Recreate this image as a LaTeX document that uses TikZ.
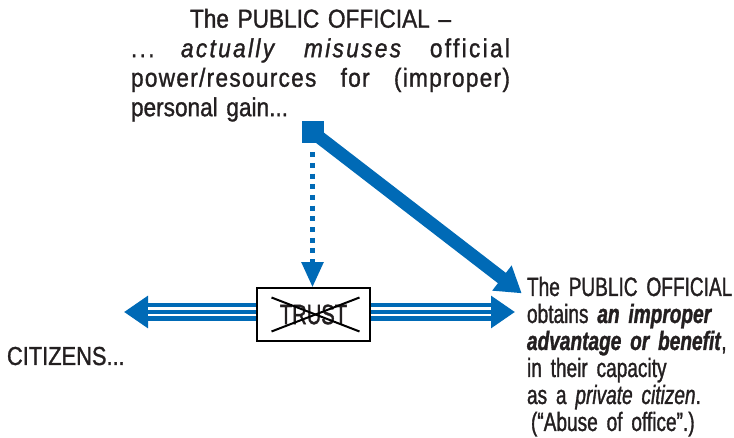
\documentclass[tikz,border=0pt]{standalone}
\usepackage{fontspec}
\defaultfontfeatures{Ligatures=TeX}
\setmainfont{Liberation Sans}
\newfontfamily\topfont{Liberation Sans}[FakeStretch=0.87,FakeBold=1.2]
\newfontfamily\rfont{Liberation Sans}[FakeStretch=0.72,FakeBold=1.2]
\newfontfamily\cfont{Liberation Sans}[FakeStretch=0.84,FakeBold=1.2]
\usetikzlibrary{arrows.meta,calc}
\definecolor{ablue}{RGB}{0,106,182}
\definecolor{txt}{RGB}{35,31,32}
\newcommand\fillsp{\hskip 0pt plus 1fil\relax}
\tikzset{
  txtnode/.style={inner sep=0pt, outer sep=0pt, text=txt},
  triple/.style={ablue, line width=18.4pt, -{Triangle[length=24pt,width=31pt]}},
  gapline/.style={white, line width=2.2pt},
  dotarrow/.style={ablue, line width=5pt, dash pattern=on 5pt off 5.7pt, shorten <=9pt, -{Triangle[length=25pt,width=21pt]}},
  fatarrow/.style={ablue, line width=13pt, -{Triangle[length=25pt,width=30pt]}},
  trustbox/.style={draw=black, line width=1.5pt, fill=white, minimum width=113pt, minimum height=53pt, inner sep=0pt, text=txt, font=\rfont\fontsize{28}{28}\selectfont},
  cross/.style={black, line width=2pt}
}
\begin{document}
\begin{tikzpicture}[x=1pt,y=-1pt]
\useasboundingbox (0,0) rectangle (734,438);
% text blocks
\node[txtnode, anchor=base west, text width=379pt, align=left, font=\topfont\fontsize{26}{29.5}\selectfont] (top) at (131,27.7)
 {\leavevmode\hbox to 379pt{\hfil The PUBLIC OFFICIAL –\hfil}\\
  \leavevmode\hbox to 379pt{\addfontfeature{LetterSpace=9}...\fillsp\textit{actually}\fillsp\textit{misuses}\fillsp official}\\
  \leavevmode\hbox to 379pt{\addfontfeature{LetterSpace=5}power/resources\fillsp for\fillsp (improper)}\\
  personal gain...};
\node[txtnode, anchor=base west, text width=210pt, align=left, font=\rfont\fontsize{26.5}{27}\selectfont] (rt) at (527,296)
 {The PUBLIC OFFICIAL\\
  obtains \textbf{\textit{an improper}}\\
  \textbf{\textit{advantage or benefit}},\\
  in their capacity\\
  as a \textit{private citizen}.\\
  \hspace*{4pt}(“Abuse of office”.)};
\node[txtnode, anchor=base west, font=\cfont\fontsize{26}{30}\selectfont] (cit) at (7,365) {CITIZENS...};
% square and trust box
\node[fill=ablue, minimum size=22pt, inner sep=0pt] (sq) at (312.5,132) {};
\coordinate (ltip) at (124,312);
\coordinate (rtip) at (515,312);
\coordinate (dtip) at (521.7,293.3);
\node[trustbox] (trust) at (313.5,314.5) {TRUST};
% connectors
\draw[triple] (ltip -| trust.west) -- (ltip);
\draw[gapline] ($(ltip -| trust.west)+(0,-3.4)$) -- ($(ltip)+(24,-3.4)$);
\draw[gapline] ($(ltip -| trust.west)+(0,3.4)$) -- ($(ltip)+(24,3.4)$);
\draw[triple] (rtip -| trust.east) -- (rtip);
\draw[gapline] ($(rtip -| trust.east)+(0,-3.4)$) -- ($(rtip)+(-24,-3.4)$);
\draw[gapline] ($(rtip -| trust.east)+(0,3.4)$) -- ($(rtip)+(-24,3.4)$);
\draw[dotarrow] (sq.south) -- (sq.south |- trust.north);
\draw[fatarrow] (sq.center) -- (dtip);
% cross over the label
\draw[cross] ($(trust.center)+(-42,-17)$) -- ($(trust.center)+(46,17)$);
\draw[cross] ($(trust.center)+(-42,17)$) -- ($(trust.center)+(46,-17)$);
\end{tikzpicture}
\end{document}
